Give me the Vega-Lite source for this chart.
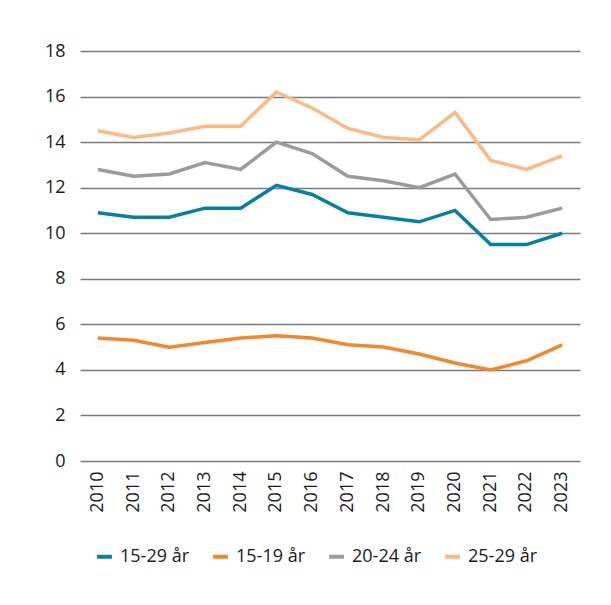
{
  "$schema": "https://vega.github.io/schema/vega-lite/v6.json",
  "autosize": "none",
  "width": 500,
  "height": 410,
  "padding": {"left": 80, "top": 51, "right": 31, "bottom": 144},
  "background": "white",
  "config": {
    "font": "Open Sans",
    "view": {"stroke": null}
  },
  "data": {
    "values": [
      {"year": "2010", "group": "15-29 år", "value": 10.9},
      {"year": "2011", "group": "15-29 år", "value": 10.7},
      {"year": "2012", "group": "15-29 år", "value": 10.7},
      {"year": "2013", "group": "15-29 år", "value": 11.1},
      {"year": "2014", "group": "15-29 år", "value": 11.1},
      {"year": "2015", "group": "15-29 år", "value": 12.1},
      {"year": "2016", "group": "15-29 år", "value": 11.7},
      {"year": "2017", "group": "15-29 år", "value": 10.9},
      {"year": "2018", "group": "15-29 år", "value": 10.7},
      {"year": "2019", "group": "15-29 år", "value": 10.5},
      {"year": "2020", "group": "15-29 år", "value": 11.0},
      {"year": "2021", "group": "15-29 år", "value": 9.5},
      {"year": "2022", "group": "15-29 år", "value": 9.5},
      {"year": "2023", "group": "15-29 år", "value": 10.0},
      {"year": "2010", "group": "15-19 år", "value": 5.4},
      {"year": "2011", "group": "15-19 år", "value": 5.3},
      {"year": "2012", "group": "15-19 år", "value": 5.0},
      {"year": "2013", "group": "15-19 år", "value": 5.2},
      {"year": "2014", "group": "15-19 år", "value": 5.4},
      {"year": "2015", "group": "15-19 år", "value": 5.5},
      {"year": "2016", "group": "15-19 år", "value": 5.4},
      {"year": "2017", "group": "15-19 år", "value": 5.1},
      {"year": "2018", "group": "15-19 år", "value": 5.0},
      {"year": "2019", "group": "15-19 år", "value": 4.7},
      {"year": "2020", "group": "15-19 år", "value": 4.3},
      {"year": "2021", "group": "15-19 år", "value": 4.0},
      {"year": "2022", "group": "15-19 år", "value": 4.4},
      {"year": "2023", "group": "15-19 år", "value": 5.1},
      {"year": "2010", "group": "20-24 år", "value": 12.8},
      {"year": "2011", "group": "20-24 år", "value": 12.5},
      {"year": "2012", "group": "20-24 år", "value": 12.6},
      {"year": "2013", "group": "20-24 år", "value": 13.1},
      {"year": "2014", "group": "20-24 år", "value": 12.8},
      {"year": "2015", "group": "20-24 år", "value": 14.0},
      {"year": "2016", "group": "20-24 år", "value": 13.5},
      {"year": "2017", "group": "20-24 år", "value": 12.5},
      {"year": "2018", "group": "20-24 år", "value": 12.3},
      {"year": "2019", "group": "20-24 år", "value": 12.0},
      {"year": "2020", "group": "20-24 år", "value": 12.6},
      {"year": "2021", "group": "20-24 år", "value": 10.6},
      {"year": "2022", "group": "20-24 år", "value": 10.7},
      {"year": "2023", "group": "20-24 år", "value": 11.1},
      {"year": "2010", "group": "25-29 år", "value": 14.5},
      {"year": "2011", "group": "25-29 år", "value": 14.2},
      {"year": "2012", "group": "25-29 år", "value": 14.4},
      {"year": "2013", "group": "25-29 år", "value": 14.7},
      {"year": "2014", "group": "25-29 år", "value": 14.7},
      {"year": "2015", "group": "25-29 år", "value": 16.2},
      {"year": "2016", "group": "25-29 år", "value": 15.5},
      {"year": "2017", "group": "25-29 år", "value": 14.6},
      {"year": "2018", "group": "25-29 år", "value": 14.2},
      {"year": "2019", "group": "25-29 år", "value": 14.1},
      {"year": "2020", "group": "25-29 år", "value": 15.3},
      {"year": "2021", "group": "25-29 år", "value": 13.2},
      {"year": "2022", "group": "25-29 år", "value": 12.8},
      {"year": "2023", "group": "25-29 år", "value": 13.4}
    ]
  },
  "mark": {"type": "line", "strokeWidth": 3.5, "strokeJoin": "miter"},
  "encoding": {
    "x": {
      "field": "year",
      "type": "ordinal",
      "scale": {"type": "band", "paddingInner": 0, "paddingOuter": 0},
      "axis": {
        "title": null,
        "domain": false,
        "ticks": false,
        "labelAngle": -90,
        "labelAlign": "right",
        "labelBaseline": "middle",
        "labelPadding": 10,
        "labelFontSize": 18,
        "labelColor": "#1a1a1a"
      }
    },
    "y": {
      "field": "value",
      "type": "quantitative",
      "scale": {"domain": [0, 18], "nice": false},
      "axis": {
        "title": null,
        "values": [0, 2, 4, 6, 8, 10, 12, 14, 16, 18],
        "domain": false,
        "ticks": false,
        "labelPadding": 15,
        "labelFontSize": 18,
        "labelColor": "#1a1a1a",
        "gridColor": "#7a7a7a",
        "gridWidth": 1.5,
        "gridOpacity": 1
      }
    },
    "color": {
      "field": "group",
      "type": "nominal",
      "sort": ["15-29 år", "15-19 år", "20-24 år", "25-29 år"],
      "scale": {
        "domain": ["15-29 år", "15-19 år", "20-24 år", "25-29 år"],
        "range": ["#0580a4", "#f5862a", "#9b9b9d", "#fdb982"]
      },
      "legend": {
        "title": null,
        "orient": "none",
        "legendX": 15,
        "legendY": 496,
        "direction": "horizontal",
        "symbolType": "stroke",
        "symbolStrokeWidth": 4,
        "symbolSize": 220,
        "labelFontSize": 18,
        "labelColor": "#1a1a1a",
        "columnPadding": 16,
        "labelOffset": 6
      }
    }
  }
}
